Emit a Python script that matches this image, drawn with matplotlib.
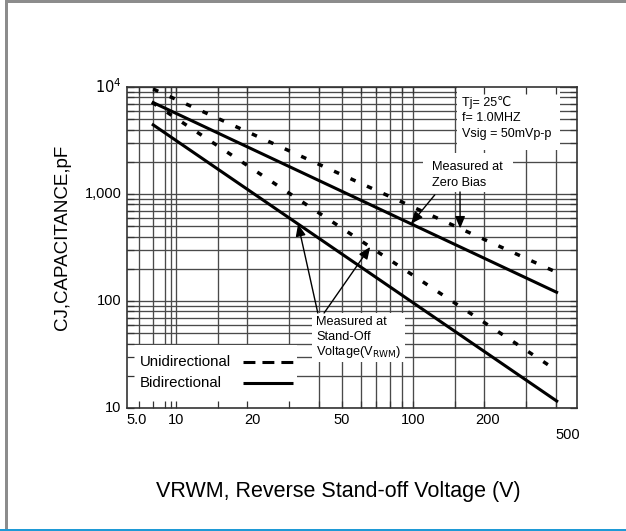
import matplotlib
matplotlib.use("Agg")
import matplotlib.pyplot as plt
import numpy as np
from matplotlib.lines import Line2D
from matplotlib.patches import Rectangle
from matplotlib.transforms import blended_transform_factory
from matplotlib.ticker import NullLocator

plt.rcParams['font.family'] = ['Liberation Sans', 'DejaVu Sans']

# ---- data ----
v_bi_zero = [7.9, 409]
c_bi_zero = [7240, 119]
v_bi_so = [7.9, 409]
c_bi_so = [4510, 11.4]
v_uni_zero = [8.0, 409]
c_uni_zero = [9570, 183]
v_uni_so = [7.9, 409]
c_uni_so = [7200, 22.0]

grid_x = [7, 8, 9, 9.5, 10, 15, 20, 30, 40, 50, 60, 70, 80, 90, 100, 150, 200, 300, 400]
grid_y = [m * k for k in (10, 100, 1000) for m in range(1, 10)] + [10000]

xtick_pos = [6.8, 10, 21, 50, 100, 207, 450]
xtick_txt = ["5.0", "10", "20", "50", "100", "200", "500"]
ytick_pos = [10, 100, 1000, 10000]
ytick_txt = ["10", "100", "1,000", "$10^4$"]

legend_txt = ["Unidirectional", "Bidirectional"]

XLIM = (6.2, 492)
YLIM = (10, 10000)

fig = plt.figure(figsize=(6.26, 5.31), dpi=100)
ax = fig.add_axes([127 / 626, 1 - 408 / 531, 450 / 626, 321 / 531])
ax.set_xscale('log')
ax.set_yscale('log')
ax.set_xlim(*XLIM)
ax.set_ylim(*YLIM)

gc = '#4a4a4a'
for gx in grid_x:
    ax.axvline(gx, color=gc, lw=0.95, zorder=1)
for gy in grid_y:
    ax.axhline(gy, color=gc, lw=0.95, zorder=1)

# white boxes that hide the grid behind labels
boxes = [(0.0, 0.0, 0.378, 0.197), (0.733, 0.804, 0.229, 0.196),
         (0.658, 0.673, 0.200, 0.121), (0.411, 0.143, 0.207, 0.153)]
for (bx, by, bw, bh) in boxes:
    ax.add_patch(Rectangle((bx, by), bw, bh, transform=ax.transAxes,
                           facecolor='white', edgecolor='none', zorder=2))

lw_s = 2.2
dash = (0, (1.6, 3.6))
ax.plot(v_bi_zero, c_bi_zero, color='black', lw=lw_s, zorder=3, solid_capstyle='butt')
ax.plot(v_bi_so, c_bi_so, color='black', lw=lw_s, zorder=3, solid_capstyle='butt')
ax.plot(v_uni_zero, c_uni_zero, color='black', lw=2.5, ls=dash, zorder=3, dash_capstyle='butt')
ax.plot(v_uni_so, c_uni_so, color='black', lw=2.5, ls=dash, zorder=3, dash_capstyle='butt')

# ticks
ax.set_xticks(grid_x)
ax.set_xticklabels([])
ax.set_yticks(grid_y)
ax.set_yticklabels([])
ax.xaxis.set_minor_locator(NullLocator())
ax.yaxis.set_minor_locator(NullLocator())
ax.tick_params(which='both', direction='in', length=5, width=0.9, color='#333333',
               top=True, right=True)
for s in ax.spines.values():
    s.set_color('#333333')
    s.set_linewidth(1.2)
ax.set_axisbelow(False)

tx = blended_transform_factory(ax.transData, ax.transAxes)
ty = blended_transform_factory(ax.transAxes, ax.transData)
for p, t in zip(xtick_pos, xtick_txt):
    yoff = -0.084 if t == "500" else -0.037
    ax.text(p, yoff, t, transform=tx, ha='center', va='center', fontsize=10.5)
for p, t in zip(ytick_pos, ytick_txt):
    ax.text(-0.012, p, t, transform=ty, ha='right', va='center', fontsize=10.5)

fig.text(62 / 626, 1 - 237 / 531, "CJ,CAPACITANCE,pF", rotation=90, ha='center',
         va='center', fontsize=13.5)
fig.text(338 / 626, 1 - 492 / 531, "VRWM, Reverse Stand-off Voltage (V)", ha='center',
         va='center', fontsize=15.5)

# legend (text first, sample after, drawn in axes fraction)
leg_y = [0.143, 0.078]
leg_styles = [(0, (3.9, 2.3)), '-']
for yy, t, st in zip(leg_y, legend_txt, leg_styles):
    ax.text(0.029, yy, t, transform=ax.transAxes, fontsize=10.8, ha='left', va='center', zorder=4)
    ax.add_line(Line2D([0.258, 0.369], [yy, yy], transform=ax.transAxes, color='black',
                       lw=2.2, ls=st, dash_capstyle='butt', solid_capstyle='butt', zorder=4))

# annotations
fs_a = 9.2
ax.text(0.745, 0.953, "Tj= 25℃", transform=ax.transAxes, fontsize=9, va='center', ha='left', zorder=4)
ax.text(0.745, 0.903, "f= 1.0MHZ", transform=ax.transAxes, fontsize=9, va='center', ha='left', zorder=4)
ax.text(0.745, 0.853, "Vsig = 50mVp-p", transform=ax.transAxes, fontsize=9, va='center', ha='left', zorder=4)

ax.text(0.678, 0.750, "Measured at", transform=ax.transAxes, fontsize=fs_a, va='center', ha='left', zorder=4)
ax.text(0.678, 0.700, "Zero Bias", transform=ax.transAxes, fontsize=fs_a, va='center', ha='left', zorder=4)

ax.text(0.420, 0.267, "Measured at", transform=ax.transAxes, fontsize=fs_a, va='center', ha='left', zorder=4)
ax.text(0.420, 0.221, "Stand-Off", transform=ax.transAxes, fontsize=fs_a, va='center', ha='left', zorder=4)
ax.text(0.420, 0.174, "Voltage(V$_{\\mathrm{RWM}}$)", transform=ax.transAxes, fontsize=fs_a, va='center', ha='left', zorder=4)


def on_line(vs, cs, x):
    lx = np.log10(vs)
    ly = np.log10(cs)
    return 10 ** np.interp(np.log10(x), lx, ly)


aprops = dict(arrowstyle='-|>,head_length=0.6,head_width=0.25', color='black', lw=1.0,
              shrinkA=0, shrinkB=0, mutation_scale=12)
for (vs, cs, x, tail) in [(v_bi_zero, c_bi_zero, 98, (0.684, 0.664)),
                          (v_uni_zero, c_uni_zero, 158, (0.740, 0.673)),
                          (v_bi_so, c_bi_so, 32.7, (0.424, 0.296)),
                          (v_uni_so, c_uni_so, 65.9, (0.438, 0.296))]:
    ax.annotate("", xy=(x, on_line(vs, cs, x)), xycoords='data',
                xytext=tail, textcoords='axes fraction', arrowprops=aprops, zorder=5)

# figure frame
fig.add_artist(Rectangle((5 / 626, 0), 3 / 626, 1, transform=fig.transFigure,
                         facecolor='#8c8c8c', edgecolor='none'))
fig.add_artist(Rectangle((5 / 626, 1 - 3 / 531), 1, 3 / 531, transform=fig.transFigure,
                         facecolor='#8c8c8c', edgecolor='none'))
fig.add_artist(Rectangle((0, 0), 1, 2.5 / 531, transform=fig.transFigure,
                         facecolor='#1e9ad6', edgecolor='none'))

fig.savefig("out.png", dpi=100)
